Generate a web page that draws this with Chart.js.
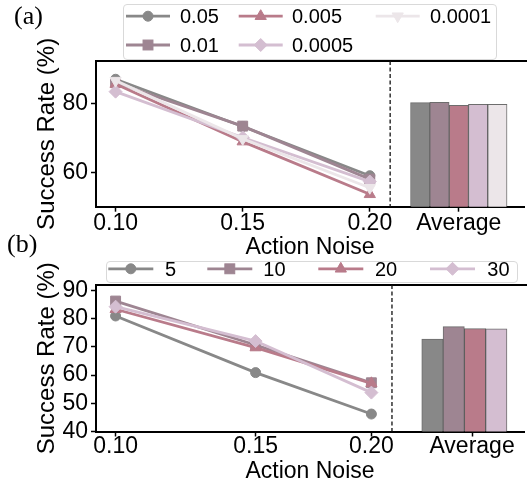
<!DOCTYPE html>
<html><head><meta charset="utf-8">
<script src="https://cdn.jsdelivr.net/npm/chart.js@4.4.1/dist/chart.umd.min.js"></script>
<style>
html,body{margin:0;padding:0;background:#fff;}
body{width:527px;height:486px;overflow:hidden;position:relative;font-family:'Liberation Sans',Arial,sans-serif;}
canvas{position:absolute;left:0;}
.tag{position:absolute;font-family:'Liberation Serif','Times New Roman',serif;font-size:26px;line-height:26px;color:#000;}
.lgbox{position:absolute;border:1px solid #d9d9d9;border-radius:4px;background:rgba(255,255,255,0.8);box-sizing:border-box;}
.lgtxt{position:absolute;font-size:20px;line-height:20px;color:#000;white-space:nowrap;}
svg{position:absolute;left:0;top:0;}
</style></head>
<body>
<canvas id="ca" width="532" height="266" style="top:0;width:532px;height:266px"></canvas>
<canvas id="cb" width="532" height="224" style="top:262px;width:532px;height:224px"></canvas>
<div id="overlay"></div>
<script>
const FONT = "'Liberation Sans', Arial, sans-serif";

// ---------- Panel (a): learning rate ----------
const xTickLabelsA = ['0.10', '0.15', '0.20', 'Average'];
const seriesNamesA = ['0.05', '0.01', '0.005', '0.0005', '0.0001'];
const lr_0_05   = [87.0, 73.3, 59.0];
const lr_0_01   = [86.0, 73.4, 58.0];
const lr_0_005  = [85.6, 68.9, 53.6];
const lr_0_0005 = [83.4, 70.1, 57.3];
const lr_0_0001 = [86.6, 69.7, 55.5];
const averageA  = [80.2, 80.3, 79.4, 79.7, 79.7];
const yTicksA   = [60, 80];

// ---------- Panel (b): horizon ----------
const xTickLabelsB = ['0.10', '0.15', '0.20', 'Average'];
const seriesNamesB = ['5', '10', '20', '30'];
const h_5  = [81.0, 60.9, 46.2];
const h_10 = [86.3, 70.7, 57.3];
const h_20 = [83.4, 69.8, 57.1];
const h_30 = [84.3, 72.1, 53.8];
const averageB = [72.8, 77.2, 76.5, 76.4];
const yTicksB  = [40, 50, 60, 70, 80, 90];

// ---------- layout / style (not data) ----------
const COLORS = ['#888888', '#9e8592', '#b97b8a', '#d4bed1', '#ece6e9'];
const MARKERS = [
  {style: 'circle', r: 5},
  {style: 'rect', r: 7},
  {style: 'triangle', r: 6.5, rot: 0},
  {style: 'rectRot', r: 6.5},
  {style: 'triangle', r: 6.5, rot: 180}
];
const layoutA = {
  slots: [0, 1, 2], tickSlots: [0, 1, 2, 2.70], barSlot: 2.70, divider: 2.16,
  xMin: -0.154, xMax: 3.213, yMin: 50, yMax: 92.3, barThickness: 19.3,
  padTop: 61, xAxisHeight: 59.3, xTitlePad: 4.9, tickPad: -2
};
const layoutB = {
  slots: [0, 1, 1.827], tickSlots: [0, 1, 1.827, 2.546], barSlot: 2.491, divider: 1.974,
  xMin: -0.140, xMax: 2.917, yMin: 40, yMax: 92.0, barThickness: 21.3,
  padTop: 23, xAxisHeight: 54.5, xTitlePad: 0.2, tickPad: -3.3
};

const framePlugin = {
  id: 'frame',
  afterDraw(chart, args, opts) {
    const {ctx, chartArea: a} = chart;
    const x = chart.scales.x;
    ctx.save();
    ctx.strokeStyle = '#000'; ctx.lineWidth = 2;
    ctx.beginPath(); ctx.moveTo(a.left - 1, a.top); ctx.lineTo(a.right + 5, a.top); ctx.stroke();
    const px = x.getPixelForValue(opts.divider);
    ctx.setLineDash([4, 2.5]); ctx.lineWidth = 1.3; ctx.strokeStyle = '#111';
    ctx.beginPath(); ctx.moveTo(px, a.top); ctx.lineTo(px, a.bottom); ctx.stroke();
    ctx.restore();
  }
};

function makeChart(id, L, names, lineSeries, averages, xLabels, yTicks) {
  const n = names.length;
  const datasets = [];
  averages.forEach((v, i) => {
    datasets.push({
      type: 'bar', label: names[i] + ' avg', data: [{x: L.barSlot, y: v}],
      backgroundColor: COLORS[i], borderColor: 'rgba(60,60,60,0.75)', borderWidth: 1,
      barThickness: L.barThickness, grouped: true, order: 100 + i
    });
  });
  lineSeries.forEach((vals, i) => {
    const m = MARKERS[i];
    datasets.push({
      type: 'line', label: names[i],
      data: L.slots.map((s, k) => ({x: s, y: vals[k]})),
      borderColor: COLORS[i], backgroundColor: COLORS[i], borderWidth: 2.8,
      pointStyle: m.style, pointRadius: m.r, pointRotation: m.rot || 0,
      pointBackgroundColor: COLORS[i], pointBorderColor: COLORS[i], pointBorderWidth: 1,
      clip: false, order: n - i
    });
  });
  const tickFont = {family: FONT, size: 23};
  const gridOpts = {display: true, drawOnChartArea: false, drawTicks: true, tickLength: 5, tickWidth: 1.5, tickColor: '#000', offset: false};
  return new Chart(document.getElementById(id), {
    type: 'line',
    data: {datasets},
    options: {
      responsive: false, animation: false, events: [],
      layout: {padding: {top: L.padTop, left: 0, right: 2, bottom: 0}},
      plugins: {legend: {display: false}, tooltip: {enabled: false}, frame: {divider: L.divider}},
      scales: {
        x: {
          type: 'linear', min: L.xMin, max: L.xMax, offset: false,
          afterBuildTicks: s => { s.ticks = L.tickSlots.map(v => ({value: v})); },
          afterFit: s => { s.height = L.xAxisHeight; s.paddingLeft = 0; s.paddingRight = 0; },
          ticks: {autoSkip: false, maxRotation: 0, minRotation: 0, padding: L.tickPad, color: '#000', font: tickFont,
                  callback: (v, i) => xLabels[i]},
          grid: gridOpts,
          border: {display: true, color: '#000', width: 2},
          title: {display: true, text: 'Action Noise', color: '#000', font: tickFont, padding: {top: 0, bottom: L.xTitlePad}}
        },
        y: {
          type: 'linear', min: L.yMin, max: L.yMax,
          afterBuildTicks: s => { s.ticks = yTicks.map(v => ({value: v})); },
          afterFit: s => { s.width = 96; s.paddingTop = 0; s.paddingBottom = 0; },
          ticks: {autoSkip: false, padding: 3, color: '#000', font: tickFont},
          grid: gridOpts,
          border: {display: true, color: '#000', width: 2},
          title: {display: true, text: 'Success Rate (%)', color: '#000', font: {family: FONT, size: 24}, padding: {top: 33, bottom: 0}}
        }
      }
    },
    plugins: [framePlugin]
  });
}

makeChart('ca', layoutA, seriesNamesA, [lr_0_05, lr_0_01, lr_0_005, lr_0_0005, lr_0_0001], averageA, xTickLabelsA, yTicksA);
makeChart('cb', layoutB, seriesNamesB, [h_5, h_10, h_20, h_30], averageB, xTickLabelsB, yTicksB);

// ---------- HTML legends and panel tags ----------
function svgMarker(m, cx, cy, color) {
  const r = m.r;
  if (m.style === 'circle') return `<circle cx="${cx}" cy="${cy}" r="${r}" fill="${color}" stroke="${color}" stroke-width="1"/>`;
  if (m.style === 'rect') { const s = r * Math.SQRT1_2; return `<rect x="${cx - s}" y="${cy - s}" width="${2 * s}" height="${2 * s}" fill="${color}" stroke="${color}" stroke-width="1"/>`; }
  const pts = [];
  if (m.style === 'triangle') {
    let a = (m.rot || 0) * Math.PI / 180;
    for (let k = 0; k < 3; k++) { pts.push([cx + Math.sin(a) * r, cy - Math.cos(a) * r]); a += 2 * Math.PI / 3; }
  } else {
    pts.push([cx, cy - r], [cx + r, cy], [cx, cy + r], [cx - r, cy]);
  }
  return `<polygon points="${pts.map(p => p.join(',')).join(' ')}" fill="${color}" stroke="${color}" stroke-width="1"/>`;
}

const overlay = document.getElementById('overlay');
let html = '';
let svg = '';
function legend(box, names, rowsY, lineX, textX, lineLen, perCol) {
  html += `<div class="lgbox" style="left:${box[0]}px;top:${box[1]}px;width:${box[2]}px;height:${box[3]}px"></div>`;
  names.forEach((name, i) => {
    const c = Math.floor(i / perCol), r = i % perCol;
    const y = rowsY[r], x0 = lineX[c];
    svg += `<line x1="${x0}" y1="${y}" x2="${x0 + lineLen}" y2="${y}" stroke="${COLORS[i]}" stroke-width="2.8"/>`;
    svg += svgMarker(MARKERS[i], x0 + lineLen / 2, y, COLORS[i]);
    html += `<span class="lgtxt" style="left:${textX[c]}px;top:${y - 9.8}px">${name}</span>`;
  });
}
legend([122.7, 4, 374, 56], seriesNamesA, [16.2, 45], [126, 238.7, 375.7], [180, 292, 430], 44, 2);
legend([106, 260.7, 412, 22.6], seriesNamesB, [268.8], [108.3, 207.3, 318.3, 430], [165, 263.3, 375, 487.3], 45, 1);
html += `<span class="tag" style="left:14px;top:3px">(a)</span>`;
html += `<span class="tag" style="left:7px;top:231px">(b)</span>`;
overlay.innerHTML = html + `<svg width="527" height="486" style="pointer-events:none">${svg}</svg>`;
</script>
</body></html>
